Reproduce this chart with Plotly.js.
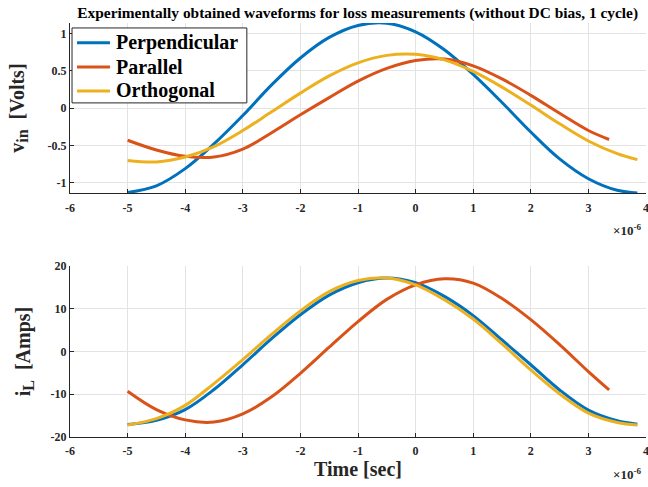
<!DOCTYPE html>
<html>
<head>
<meta charset="utf-8">
<script src="https://cdn.plot.ly/plotly-3.0.1.min.js"></script>
<style>html,body{margin:0;padding:0;background:#fff;}#chart{width:648px;height:487px;}</style>
</head>
<body>
<div id="chart"></div>
<script>
// time in units of 1e-6 s
const tFull = [-5,-4.5,-4,-3.5,-3,-2.5,-2,-1.5,-1,-0.5,0,0.5,1,1.5,2,2.5,3,3.5,3.85];
const tPar  = [-5,-4.5,-4,-3.5,-3,-2.5,-2,-1.5,-1,-0.5,0,0.5,1,1.5,2,2.5,3,3.36];

// v_in [Volts]
const vPerp = [-1.13,-1.04,-0.81,-0.48,-0.10,0.31,0.67,0.945,1.105,1.135,1.02,0.78,0.45,0.075,-0.32,-0.68,-0.945,-1.10,-1.135];
const vPar  = [-0.43,-0.56,-0.645,-0.655,-0.55,-0.33,-0.09,0.14,0.36,0.53,0.635,0.655,0.565,0.39,0.17,-0.07,-0.30,-0.42];
const vOrth = [-0.70,-0.72,-0.655,-0.515,-0.30,-0.05,0.20,0.43,0.605,0.705,0.72,0.645,0.49,0.28,0.04,-0.21,-0.44,-0.61,-0.69];

// i_L [Amps]
const iPerp = [-17.1,-16.1,-13.6,-8.9,-3.1,3.0,8.6,13.2,16.1,17.2,16.1,12.9,8.4,2.7,-3.1,-9.0,-13.7,-16.2,-17.0];
const iPar  = [-9.3,-13.6,-16.0,-16.5,-14.6,-10.6,-5.1,1.0,7.0,12.2,15.6,17.0,16.0,12.4,7.45,1.6,-4.7,-9.0];
const iOrth = [-17.2,-15.7,-12.6,-7.5,-1.9,4.0,9.5,14.0,16.6,17.2,15.6,12.1,7.6,1.8,-4.3,-9.9,-14.4,-16.6,-17.2];

const names = ['Perpendicular','Parallel','Orthogonal'];
const colors = ['#0072BD','#D95319','#EDB120'];

const xTickVals = [-6,-5,-4,-3,-2,-1,0,1,2,3,4];
const xTickText = ['-6','-5','-4','-3','-2','-1','0','1','2','3','4'];
const vTickVals = [-1,-0.5,0,0.5,1];
const vTickText = ['-1','-0.5','0','0.5','1'];
const iTickVals = [-20,-10,0,10,20];
const iTickText = ['-20','-10','0','10','20'];

const FF = 'Liberation Serif, Times New Roman, serif';

function tr(x, y, i, xa, ya) {
  return {x: x, y: y, name: names[i], type: 'scatter', mode: 'lines',
    line: {color: colors[i], width: 3, shape: 'spline', smoothing: 1},
    xaxis: xa, yaxis: ya, showlegend: false};
}

const data = [
  tr(tFull, vPerp, 0, 'x', 'y'),
  tr(tPar, vPar, 1, 'x', 'y'),
  tr(tFull, vOrth, 2, 'x', 'y'),
  tr(tFull, iPerp, 0, 'x2', 'y2'),
  tr(tPar, iPar, 1, 'x2', 'y2'),
  tr(tFull, iOrth, 2, 'x2', 'y2')
];

const tickFont = {family: FF, size: 12, color: '#262626', weight: 'bold'};
const axBase = {
  showline: true, linecolor: '#262626', linewidth: 1, mirror: false,
  showgrid: true, gridcolor: '#e3e3e3', gridwidth: 1, zeroline: false,
  ticks: 'inside', ticklen: 4, tickcolor: '#262626', tickfont: tickFont,
  ticklabeloverflow: 'allow'
};
const titleFont = {family: FF, size: 20, color: '#262626', weight: 'bold'};

// legend drawn in paper coordinates (box, sample lines, labels)
const legRows = [0.952, 0.894, 0.836];
const shapes = [{type: 'rect', xref: 'paper', yref: 'paper', x0: 0.0035, x1: 0.307, y0: 0.807, y1: 0.988,
  line: {color: '#262626', width: 1}, fillcolor: '#fff', layer: 'above'}];
const annotations = [];
names.forEach((n, i) => {
  shapes.push({type: 'line', xref: 'paper', yref: 'paper', x0: 0.0122, x1: 0.0694, y0: legRows[i], y1: legRows[i],
    line: {color: colors[i], width: 3}, layer: 'above'});
  annotations.push({text: n, xref: 'paper', yref: 'paper', x: 0.0764, y: legRows[i], xanchor: 'left', yanchor: 'middle',
    showarrow: false, font: {family: FF, size: 20, color: '#000', weight: 'bold'}});
});
annotations.push(
  {text: '×10<sup>-6</sup>', xref: 'paper', yref: 'paper', x: 0.995, y: 0.589, xanchor: 'right', yanchor: 'top',
    yshift: -27, showarrow: false, font: {family: FF, size: 13, color: '#262626', weight: 'bold'}},
  {text: '×10<sup>-6</sup>', xref: 'paper', yref: 'paper', x: 0.995, y: 0, xanchor: 'right', yanchor: 'top',
    yshift: -27, showarrow: false, font: {family: FF, size: 13, color: '#262626', weight: 'bold'}}
);

const layout = {
  width: 648, height: 487,
  margin: {l: 70, r: 2, t: 23, b: 50},
  paper_bgcolor: '#fff', plot_bgcolor: '#fff',
  showlegend: false,
  title: {text: 'Experimentally obtained waveforms for loss measurements (without DC bias, 1 cycle)',
    font: {family: FF, size: 15.4, color: '#000', weight: 'bold'},
    x: 0.552, xanchor: 'center', y: 0.975, yanchor: 'middle'},
  xaxis: Object.assign({}, axBase, {domain: [0, 1], anchor: 'y', range: [-6, 4],
    tickmode: 'array', tickvals: xTickVals, ticktext: xTickText, ticklabelstandoff: 3}),
  yaxis: Object.assign({}, axBase, {domain: [0.589, 1], anchor: 'x', range: [-1.138, 1.138],
    tickmode: 'array', tickvals: vTickVals, ticktext: vTickText,
    title: {text: 'v<sub><span style="font-size:16px">in</span></sub>  [Volts]', font: titleFont, standoff: 17}}),
  xaxis2: Object.assign({}, axBase, {domain: [0, 1], anchor: 'y2', range: [-6, 4],
    tickmode: 'array', tickvals: xTickVals, ticktext: xTickText, ticklabelstandoff: 3,
    title: {text: 'Time [sec]', font: titleFont, standoff: 2}}),
  yaxis2: Object.assign({}, axBase, {domain: [0, 0.413], anchor: 'x2', range: [-20, 20],
    tickmode: 'array', tickvals: iTickVals, ticktext: iTickText,
    title: {text: 'i<sub><span style="font-size:16px">L</span></sub>  [Amps]', font: titleFont, standoff: 14}}),
  shapes: shapes,
  annotations: annotations
};

Plotly.newPlot('chart', data, layout, {displayModeBar: false, staticPlot: true});
</script>
</body>
</html>
